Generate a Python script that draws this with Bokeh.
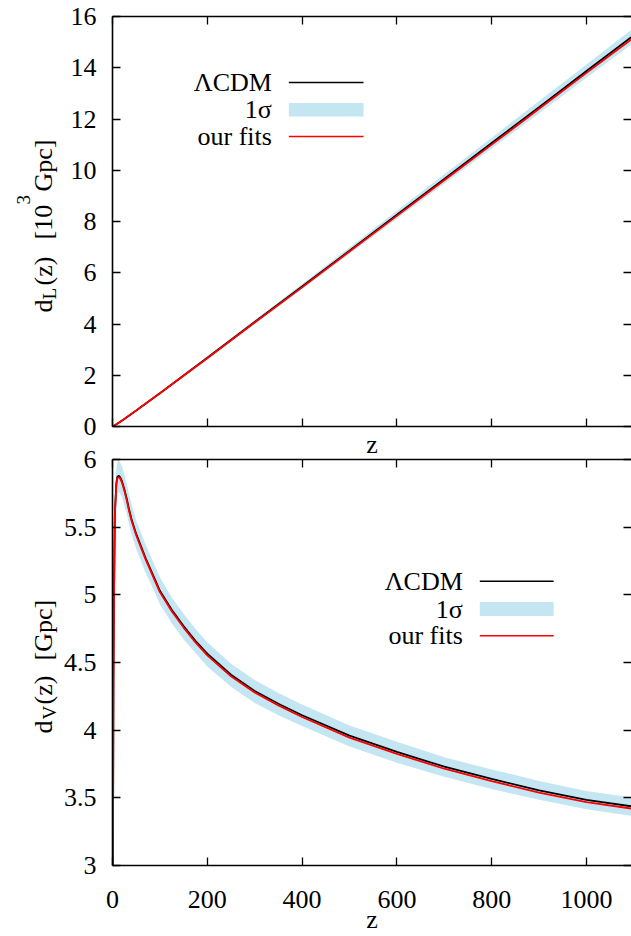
import math
from bokeh.plotting import figure
from bokeh.layouts import column, row
from bokeh.models import (Range1d, LinearAxis, FixedTicker, CustomJSTickFormatter,
                          Label, BoxAnnotation)
from bokeh.embed import file_html
from bokeh.resources import INLINE

# ---------------- data ----------------
# top panel: luminosity distance d_L(z) in 10^3 Gpc
z_L = [0, 10, 25, 50, 100, 150, 200, 300, 400, 500, 600, 700, 800, 900, 1000, 1100]
dL_lcdm = [0, 0.107, 0.296, 0.627, 1.30, 1.99, 2.68, 4.08, 5.46, 6.86, 8.26, 9.66, 11.06, 12.46, 13.87, 15.27]
dL_fit = [0, 0.106, 0.295, 0.624, 1.294, 1.98, 2.667, 4.06, 5.43, 6.83, 8.22, 9.61, 11.00, 12.40, 13.80, 15.18]
dL_hi = [0, 0.109, 0.302, 0.639, 1.325, 2.028, 2.731, 4.158, 5.564, 6.99, 8.417, 9.844, 11.27, 12.70, 14.13, 15.56]
dL_lo = [0, 0.105, 0.290, 0.615, 1.275, 1.952, 2.629, 4.002, 5.356, 6.73, 8.103, 9.476, 10.85, 12.22, 13.61, 14.98]

# bottom panel: volume-averaged distance d_V(z) in Gpc
z_V = [0, 1, 2, 3, 5, 8, 10, 13, 16, 20, 25, 30, 35, 40, 50, 60, 70, 80, 90, 100,
       125, 150, 175, 200, 250, 300, 350, 400, 500, 600, 700, 800, 900, 1000, 1100]
dV_lcdm = [0, 3.06, 4.36, 4.93, 5.60, 5.82, 5.87, 5.88, 5.87, 5.84,
           5.78, 5.71, 5.63, 5.56, 5.45, 5.36, 5.27, 5.19, 5.11, 5.03,
           4.89, 4.77, 4.66, 4.565, 4.41, 4.29, 4.195, 4.11, 3.96, 3.84,
           3.73, 3.64, 3.555, 3.485, 3.435]
dV_fit = [0, 3.05, 4.35, 4.92, 5.59, 5.81, 5.86, 5.87, 5.86, 5.83,
          5.77, 5.70, 5.62, 5.55, 5.44, 5.35, 5.26, 5.18, 5.10, 5.02,
          4.878, 4.758, 4.648, 4.553, 4.398, 4.278, 4.183, 4.097, 3.945, 3.825,
          3.715, 3.624, 3.538, 3.468, 3.418]
dV_hi = [0, 3.12, 4.44, 5.02, 5.71, 5.93, 5.98, 5.99, 5.98, 5.95,
         5.89, 5.82, 5.74, 5.67, 5.55, 5.46, 5.37, 5.29, 5.21, 5.13,
         4.98, 4.86, 4.75, 4.65, 4.49, 4.37, 4.275, 4.19, 4.035, 3.915,
         3.80, 3.71, 3.625, 3.55, 3.50]
dV_lo = [0, 3.00, 4.27, 4.83, 5.49, 5.70, 5.75, 5.76, 5.75, 5.72,
         5.66, 5.60, 5.52, 5.45, 5.34, 5.25, 5.16, 5.09, 5.01, 4.93,
         4.79, 4.67, 4.57, 4.47, 4.32, 4.20, 4.11, 4.03, 3.88, 3.76,
         3.655, 3.565, 3.485, 3.415, 3.365]

x_ticks = [0, 200, 400, 600, 800, 1000]
yL_ticks = [0, 2, 4, 6, 8, 10, 12, 14, 16]
yV_ticks = [3, 3.5, 4, 4.5, 5, 5.5, 6]
legend_labels = ["\u039bCDM", "1\u03c3", "our fits"]
x_label = "z"

# ---------------- styles / layout ----------------
FONT = "Liberation Serif"
FS = "26px"
FS_SMALL = "19px"
BAND = "#c4e6f3"
XMAX = 1095      # right edge of the frames (the plotted curves run to z=1100)
LW = 60          # width of the strip that carries the y-axis titles
MW = 631 - LW    # width of the panels
H1 = 464         # top panel canvas height
OVL = 28         # the bottom canvas overlaps the top one by this much
H2 = 936 - H1 + OVL
Y2 = H1 - OVL    # page y of the bottom canvas top


def top_conv(px, py):
    # page pixel -> data coordinates of the top panel (frame 110..631 x 16..426)
    return ((px - 110) * XMAX / (631 - 110), (426 - py) * 16 / 410)


def bot_conv(px, py):
    # page pixel -> data coordinates of the bottom panel (frame 111..631 x 459..869)
    return ((px - 111) * XMAX / (631 - 111), 3 + (869 - py) * 3 / 410)


def make_fig(height, y0, y1, left, top, bottom):
    p = figure(width=MW, height=height, x_range=Range1d(0, XMAX), y_range=Range1d(y0, y1),
               x_axis_location=None, y_axis_location=None,
               output_backend="svg", toolbar_location=None,
               min_border_left=left, min_border_right=0,
               min_border_top=top, min_border_bottom=bottom)
    p.outline_line_color = None
    p.background_fill_color = "white"
    p.border_fill_color = "white"
    for g in p.grid:
        g.visible = False
    return p


def add_axis(p, side, ticks, show=False, fmt=None, line=True, label=None,
             label_standoff=0, tick_standoff=16):
    ax = LinearAxis(ticker=FixedTicker(ticks=ticks, minor_ticks=[]))
    ax.major_tick_in = 8
    ax.major_tick_out = 0
    ax.minor_tick_in = 0
    ax.minor_tick_out = 0
    ax.major_tick_line_width = 1.3
    ax.major_tick_line_color = "black"
    ax.axis_line_width = 1.6
    ax.axis_line_color = "black" if line else None
    if show:
        ax.major_label_text_font = FONT
        ax.major_label_text_font_size = FS
        ax.major_label_text_color = "black"
        ax.major_label_standoff = tick_standoff
        if fmt is not None:
            ax.formatter = fmt
    else:
        ax.formatter = CustomJSTickFormatter(code="return ''")
        ax.major_label_text_font_size = "0px"
        ax.major_label_standoff = 0
    if label is not None:
        ax.axis_label = label
        ax.axis_label_text_font = FONT
        ax.axis_label_text_font_size = FS
        ax.axis_label_text_font_style = "normal"
        ax.axis_label_text_color = "black"
        ax.axis_label_standoff = label_standoff
    p.add_layout(ax, side)
    return ax


def lab(p, conv, px, py, text, size=FS, angle=0.0, align="left", baseline="alphabetic"):
    x, y = conv(px, py)
    p.add_layout(Label(x=x, y=y, text=text, text_font=FONT, text_font_size=size,
                       text_color="black", angle=angle, text_align=align,
                       text_baseline=baseline))


def swatch(p, conv, px0, px1, py0, py1, color):
    x0, yb = conv(px0, py1)
    x1, yt = conv(px1, py0)
    p.add_layout(BoxAnnotation(left=x0, right=x1, bottom=yb, top=yt,
                               fill_color=color, fill_alpha=1.0, line_color=None))


# ---------------- strip with the y-axis titles ----------------
lf = figure(width=LW, height=936, x_range=Range1d(0, LW), y_range=Range1d(936, 0),
            x_axis_location=None, y_axis_location=None,
            output_backend="svg", toolbar_location=None, min_border=0)
lf.outline_line_color = None
for g in lf.grid:
    g.visible = False


def page(px, py):
    return (px, py)


R = math.pi / 2
lab(lf, page, 43, 312, "d", angle=R)
lab(lf, page, 49, 299, "L", size=FS_SMALL, angle=R)
lab(lf, page, 43, 285, "(z)", angle=R)
lab(lf, page, 43, 239, "[10", angle=R)
lab(lf, page, 23, 204, "3", size=FS_SMALL, angle=R)
lab(lf, page, 43, 191, "Gpc]", angle=R)

lab(lf, page, 43, 733, "d", angle=R)
lab(lf, page, 49, 719, "V", size=FS_SMALL, angle=R)
lab(lf, page, 43, 704, "(z)", angle=R)
lab(lf, page, 43, 660, "[Gpc]", angle=R)

# ---------------- top panel ----------------
p1 = make_fig(H1, 0, 16, 110 - LW, 16, H1 - 426)
add_axis(p1, "left", yL_ticks, show=True)
add_axis(p1, "right", yL_ticks, line=False)
add_axis(p1, "above", x_ticks)
add_axis(p1, "below", x_ticks, label=x_label, label_standoff=3)

p1.varea(x=z_L, y1=dL_lo, y2=dL_hi, fill_color=BAND)
p1.line(z_L, dL_lcdm, line_color="black", line_width=1.8)
p1.line(z_L, dL_fit, line_color="red", line_width=1.8)

for txt, cy in zip(legend_labels, [82, 109, 136]):
    lab(p1, top_conv, 270, cy, txt, align="right", baseline="middle")
swatch(p1, top_conv, 287, 362, 81.2, 82.8, "black")
swatch(p1, top_conv, 287, 362, 102.5, 116, BAND)
swatch(p1, top_conv, 287, 362, 135.2, 136.8, "red")

# ---------------- bottom panel ----------------
p2 = make_fig(H2, 3, 6, 111 - LW, 459 - Y2, 936 - 869)
p2.border_fill_alpha = 0.0
try:
    p2.margin = (-OVL, 0, 0, 0)
except Exception:
    pass
add_axis(p2, "left", yV_ticks, show=True,
         fmt=CustomJSTickFormatter(code="return tick.toString()"))
add_axis(p2, "right", yV_ticks, line=False)
add_axis(p2, "above", x_ticks)
add_axis(p2, "below", x_ticks, show=True, tick_standoff=25, label=x_label,
         label_standoff=-6)

p2.varea(x=z_V, y1=dV_lo, y2=dV_hi, fill_color=BAND)
p2.line(z_V, dV_lcdm, line_color="black", line_width=1.8)
p2.line(z_V, dV_fit, line_color="red", line_width=1.8)

for txt, cy in zip(legend_labels, [582, 610, 637]):
    lab(p2, bot_conv, 462, cy, txt, align="right", baseline="middle")
swatch(p2, bot_conv, 479, 553, 581.2, 582.8, "black")
swatch(p2, bot_conv, 479, 553, 603, 617, BAND)
swatch(p2, bot_conv, 479, 553, 636.2, 637.8, "red")

layout = row(lf, column(p1, p2, spacing=0), spacing=0)
open("out.html", "w").write(file_html(layout, INLINE))
